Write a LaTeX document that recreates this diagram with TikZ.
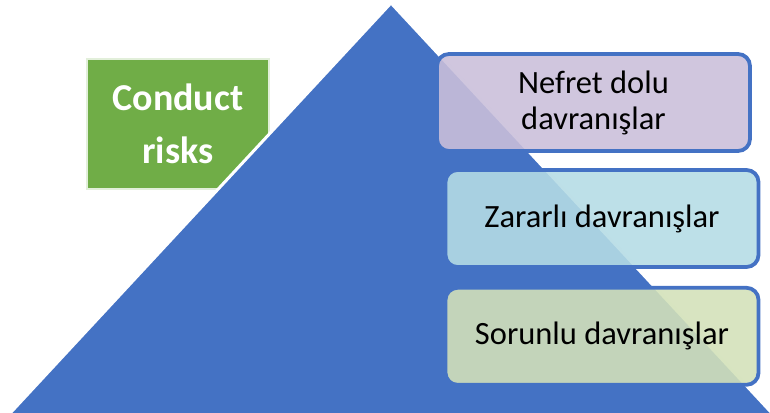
\documentclass[tikz,border=0pt]{standalone}
\usepackage{fontspec}
\setmainfont{Carlito}
\usepackage{tikz}
\usetikzlibrary{arrows.meta,positioning}
\definecolor{pyrblue}{HTML}{4472C4}
\definecolor{riskgreen}{HTML}{70AD47}
\definecolor{riskedge}{HTML}{E2EFDA}
\definecolor{hatefill}{RGB}{202,191,218}
\definecolor{harmfill}{RGB}{181,220,229}
\definecolor{probfill}{RGB}{211,225,185}

\begin{document}
\begin{tikzpicture}[>=Stealth,x=1pt,y=-1pt,
    level/.style={draw=pyrblue,line width=3.8pt,rounded corners=12pt,
      fill opacity=0.89,text opacity=1,minimum width=313pt,minimum height=97pt,
      align=center,font=\fontsize{32.5}{36}\selectfont},
    tag/.style={fill=riskgreen,draw=riskedge,line width=2pt,text=white,
      minimum width=182pt,minimum height=130pt,align=center,
      font=\fontsize{38}{53}\selectfont\bfseries}]
  \useasboundingbox (0,0) rectangle (770,412);
  \begin{scope}
    \clip (0,0) rectangle (770,412);
    % label box, partly hidden by the pyramid
    \node[tag] (risks) at (178,124) {Conduct\\risks};
    % pyramid
    \filldraw[fill=pyrblue,draw=white,line width=3pt,line join=miter]
      (391,3) -- (782,424) -- (0,424) -- cycle;
    % levels
    \node[level,fill=hatefill] (hate) at (593.5,102.5) {Nefret dolu\\davranışlar};
    \node[level,fill=harmfill] (harm) at (602,218.5) {Zararlı davranışlar};
    \node[level,fill=probfill,below=17pt of harm] (prob) {Sorunlu davranışlar};
  \end{scope}
\end{tikzpicture}
\end{document}
